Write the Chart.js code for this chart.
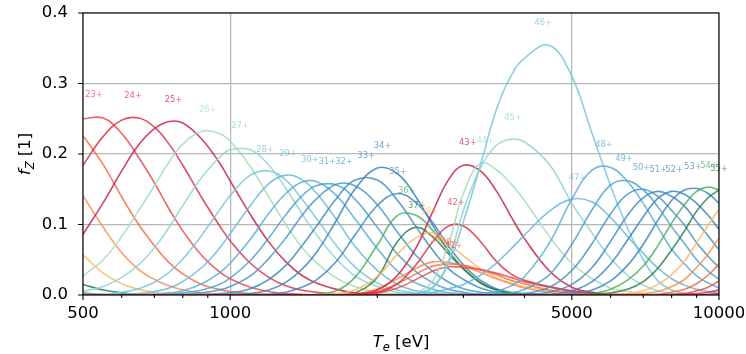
<!DOCTYPE html>
<html>
<head>
<meta charset="utf-8">
<script src="https://cdn.jsdelivr.net/npm/chart.js@4.4.1/dist/chart.umd.min.js"></script>
<style>
  html, body { margin: 0; padding: 0; background: #fff; }
  #wrap { width: 746px; height: 354px; }
</style>
</head>
<body>
<div id="wrap"><canvas id="fz" width="746" height="354"></canvas></div>
<script>
/* DATA */

// electron temperature grid [eV]
const te = [500, 550, 600, 650, 700, 750, 800, 875, 950, 1000,
            1100, 1200, 1300, 1400, 1500, 1650, 1800, 2000, 2200, 2400,
            2600, 2800, 3000, 3250, 3500, 3750, 4000, 4500, 5000, 5500,
            6000, 6500, 7000, 7500, 8000, 8500, 9000, 9500, 10000];

// charge states plotted, and the ones that get a peak label
const charges = [18, 19, 20, 21, 22, 23, 24, 25, 26, 27, 28, 29, 30, 31, 32, 33, 34, 35, 36, 37, 38, 39,
                 40, 41, 42, 43, 44, 45, 46, 47, 48, 49, 50, 51, 52, 53, 54, 55, 56, 57, 58, 59, 60, 61];
const labelled = [23, 24, 25, 26, 27, 28, 29, 30, 31, 32, 33, 34, 35, 36, 37, 38, 39,
                  40, 41, 42, 43, 44, 45, 46, 47, 48, 49, 50, 51, 52, 53, 54, 55];

// fractional abundance of each charge state on the te grid
const f18 = [0.003,0.001,0,0,0,0,0,0,0,0, 0,0,0,0,0,0,0,0,0,0, 0,0,0,0,0,0,0,0,0,0, 0,0,0,0,0,0,0,0,0];
const f19 = [0.015,0.007,0.003,0.001,0.001,0,0,0,0,0, 0,0,0,0,0,0,0,0,0,0, 0,0,0,0,0,0,0,0,0,0, 0,0,0,0,0,0,0,0,0];
const f20 = [0.057,0.031,0.016,0.008,0.004,0.002,0.001,0,0,0, 0,0,0,0,0,0,0,0,0,0, 0,0,0,0,0,0,0,0,0,0, 0,0,0,0,0,0,0,0,0];
const f21 = [0.141,0.096,0.060,0.036,0.022,0.013,0.007,0.003,0.001,0.001, 0,0,0,0,0,0,0,0,0,0, 0,0,0,0,0,0,0,0,0,0, 0,0,0,0,0,0,0,0,0];
const f22 = [0.226,0.185,0.139,0.100,0.070,0.046,0.030,0.015,0.008,0.005, 0.002,0.001,0,0,0,0,0,0,0,0, 0,0,0,0,0,0,0,0,0,0, 0,0,0,0,0,0,0,0,0];
const f23 = [0.250,0.251,0.229,0.195,0.159,0.122,0.091,0.056,0.033,0.023, 0.011,0.005,0.002,0.001,0,0,0,0,0,0, 0,0,0,0,0,0,0,0,0,0, 0,0,0,0,0,0,0,0,0];
const f24 = [0.184,0.225,0.248,0.251,0.238,0.214,0.184,0.138,0.099,0.077, 0.045,0.025,0.013,0.007,0.004,0.001,0.001,0,0,0, 0,0,0,0,0,0,0,0,0,0, 0,0,0,0,0,0,0,0,0];
const f25 = [0.086,0.131,0.176,0.213,0.236,0.246,0.244,0.221,0.188,0.162, 0.114,0.075,0.047,0.028,0.017,0.008,0.003,0.001,0,0, 0,0,0,0,0,0,0,0,0,0, 0,0,0,0,0,0,0,0,0];
const f26 = [0.027,0.050,0.083,0.120,0.155,0.189,0.214,0.232,0.229,0.218, 0.182,0.139,0.100,0.068,0.046,0.024,0.012,0.004,0.002,0.001, 0,0,0,0,0,0,0,0,0,0, 0,0,0,0,0,0,0,0,0];
const f27 = [0.005,0.012,0.025,0.043,0.067,0.096,0.127,0.167,0.195,0.206, 0.206,0.184,0.151,0.116,0.086,0.051,0.027,0.012,0.004,0.002, 0.001,0,0,0,0,0,0,0,0,0, 0,0,0,0,0,0,0,0,0];
const f28 = [0,0.001,0.004,0.009,0.018,0.032,0.051,0.085,0.120,0.141, 0.170,0.176,0.163,0.137,0.109,0.070,0.040,0.017,0.007,0.003, 0.001,0,0,0,0,0,0,0,0,0, 0,0,0,0,0,0,0,0,0];
const f29 = [0,0,0.001,0.002,0.005,0.010,0.019,0.039,0.066,0.087, 0.127,0.158,0.170,0.164,0.145,0.107,0.069,0.035,0.015,0.006, 0.003,0.001,0,0,0,0,0,0,0,0, 0,0,0,0,0,0,0,0,0];
const f30 = [0,0,0,0,0.001,0.003,0.006,0.016,0.031,0.045, 0.079,0.116,0.144,0.160,0.161,0.141,0.108,0.066,0.034,0.017, 0.008,0.003,0.002,0,0,0,0,0,0,0, 0,0,0,0,0,0,0,0,0];
const f31 = [0,0,0,0,0,0.001,0.003,0.007,0.015,0.024, 0.049,0.081,0.114,0.140,0.155,0.156,0.136,0.096,0.058,0.033, 0.017,0.008,0.004,0.001,0,0,0,0,0,0, 0,0,0,0,0,0,0,0,0];
const f32 = [0,0,0,0,0,0,0.001,0.003,0.007,0.012, 0.027,0.052,0.081,0.112,0.136,0.157,0.155,0.128,0.089,0.056, 0.033,0.018,0.009,0.004,0.002,0.001,0,0,0,0, 0,0,0,0,0,0,0,0,0];
const f33 = [0,0,0,0,0,0,0,0,0.002,0.003, 0.009,0.022,0.042,0.069,0.097,0.137,0.163,0.163,0.134,0.097, 0.063,0.037,0.022,0.010,0.004,0.002,0.001,0,0,0, 0,0,0,0,0,0,0,0,0];
const f34 = [0,0,0,0,0,0,0,0,0,0.001, 0.002,0.007,0.018,0.036,0.060,0.106,0.150,0.180,0.172,0.139, 0.098,0.062,0.037,0.018,0.008,0.003,0.001,0,0,0, 0,0,0,0,0,0,0,0,0];
const f35 = [0,0,0,0,0,0,0,0,0,0, 0,0.001,0.004,0.011,0.021,0.048,0.085,0.127,0.144,0.131, 0.102,0.069,0.043,0.021,0.009,0.004,0.002,0,0,0, 0,0,0,0,0,0,0,0,0];
const f36 = [0,0,0,0,0,0,0,0,0,0, 0,0,0,0,0.001,0.006,0.025,0.071,0.113,0.113, 0.091,0.062,0.038,0.018,0.007,0.003,0.001,0,0,0, 0,0,0,0,0,0,0,0,0];
const f37 = [0,0,0,0,0,0,0,0,0,0, 0,0,0,0,0,0,0.003,0.025,0.076,0.096, 0.082,0.058,0.037,0.017,0.007,0.002,0.001,0,0,0, 0,0,0,0,0,0,0,0,0];
const f38 = [0,0,0,0,0,0,0,0,0,0, 0,0,0,0,0,0.002,0.007,0.026,0.058,0.081, 0.088,0.073,0.056,0.037,0.025,0.017,0.012,0.006,0.003,0.001, 0.001,0,0,0,0,0,0,0,0];
const f39 = [0,0,0,0,0,0,0,0,0,0, 0,0,0,0,0,0,0.002,0.009,0.023,0.038, 0.047,0.046,0.041,0.032,0.023,0.016,0.010,0.004,0.001,0, 0,0,0,0,0,0,0,0,0];
const f40 = [0,0,0,0,0,0,0,0,0,0, 0,0,0,0,0,0,0.001,0.005,0.016,0.030, 0.041,0.044,0.042,0.036,0.029,0.021,0.016,0.007,0.003,0.001, 0,0,0,0,0,0,0,0,0];
const f41 = [0,0,0,0,0,0,0,0,0,0, 0,0,0,0,0,0,0.001,0.003,0.010,0.022, 0.034,0.040,0.039,0.036,0.031,0.025,0.019,0.011,0.005,0.003, 0.001,0,0,0,0,0,0,0,0];
const f42 = [0,0,0,0,0,0,0,0,0,0, 0,0,0,0,0,0,0,0.003,0.016,0.043, 0.076,0.098,0.098,0.076,0.048,0.030,0.021,0.012,0.006,0.003, 0.001,0,0,0,0,0,0,0,0];
const f43 = [0,0,0,0,0,0,0,0,0,0, 0,0,0,0,0,0,0.001,0.007,0.028,0.067, 0.119,0.164,0.184,0.176,0.148,0.112,0.080,0.034,0.011,0.004, 0.001,0,0,0,0,0,0,0,0];
const f44 = [0,0,0,0,0,0,0,0,0,0, 0,0,0,0,0,0,0,0,0,0.003, 0.021,0.074,0.144,0.187,0.178,0.158,0.134,0.083,0.045,0.023, 0.010,0.005,0.002,0.001,0,0,0,0,0];
const f45 = [0,0,0,0,0,0,0,0,0,0, 0,0,0,0,0,0,0,0,0,0, 0.010,0.050,0.120,0.180,0.212,0.221,0.217,0.185,0.130,0.088, 0.052,0.028,0.014,0.006,0.002,0.001,0,0,0];
const f46 = [0,0,0,0,0,0,0,0,0,0, 0,0,0,0,0,0,0,0,0,0.002, 0.012,0.045,0.104,0.184,0.262,0.310,0.336,0.354,0.310,0.229, 0.155,0.095,0.050,0.020,0.007,0.002,0.001,0,0];
const f47 = [0,0,0,0,0,0,0,0,0,0, 0,0,0,0,0,0,0,0,0.001,0.002, 0.004,0.009,0.015,0.028,0.045,0.065,0.085,0.119,0.136,0.132, 0.110,0.083,0.059,0.038,0.023,0.014,0.008,0.005,0.003];
const f48 = [0,0,0,0,0,0,0,0,0,0, 0,0,0,0,0,0,0,0,0,0, 0,0,0.001,0.002,0.005,0.013,0.026,0.074,0.136,0.177, 0.181,0.161,0.130,0.096,0.065,0.044,0.027,0.017,0.010];
const f49 = [0,0,0,0,0,0,0,0,0,0, 0,0,0,0,0,0,0,0,0,0, 0,0,0,0,0.001,0.003,0.008,0.029,0.072,0.121, 0.156,0.162,0.149,0.125,0.097,0.073,0.050,0.034,0.022];
const f50 = [0,0,0,0,0,0,0,0,0,0, 0,0,0,0,0,0,0,0,0,0, 0,0,0,0,0,0.001,0.002,0.011,0.035,0.073, 0.115,0.143,0.150,0.140,0.120,0.099,0.074,0.055,0.039];
const f51 = [0,0,0,0,0,0,0,0,0,0, 0,0,0,0,0,0,0,0,0,0, 0,0,0,0,0,0,0.001,0.004,0.015,0.039, 0.076,0.113,0.138,0.147,0.140,0.126,0.104,0.084,0.064];
const f52 = [0,0,0,0,0,0,0,0,0,0, 0,0,0,0,0,0,0,0,0,0, 0,0,0,0,0,0,0,0.001,0.006,0.019, 0.044,0.078,0.111,0.137,0.147,0.143,0.130,0.113,0.093];
const f53 = [0,0,0,0,0,0,0,0,0,0, 0,0,0,0,0,0,0,0,0,0, 0,0,0,0,0,0,0,0,0.002,0.007, 0.020,0.042,0.072,0.106,0.134,0.149,0.151,0.144,0.130];
const f54 = [0,0,0,0,0,0,0,0,0,0, 0,0,0,0,0,0,0,0,0,0, 0,0,0,0,0,0,0,0,0,0.002, 0.008,0.021,0.041,0.070,0.102,0.128,0.147,0.153,0.149];
const f55 = [0,0,0,0,0,0,0,0,0,0, 0,0,0,0,0,0,0,0,0,0, 0,0,0,0,0,0,0,0,0,0.001, 0.003,0.008,0.019,0.038,0.064,0.091,0.119,0.138,0.149];
const f56 = [0,0,0,0,0,0,0,0,0,0, 0,0,0,0,0,0,0,0,0,0, 0,0,0,0,0,0,0,0,0,0, 0.001,0.002,0.006,0.015,0.029,0.048,0.074,0.099,0.122];
const f57 = [0,0,0,0,0,0,0,0,0,0, 0,0,0,0,0,0,0,0,0,0, 0,0,0,0,0,0,0,0,0,0, 0,0.001,0.002,0.005,0.012,0.022,0.039,0.058,0.081];
const f58 = [0,0,0,0,0,0,0,0,0,0, 0,0,0,0,0,0,0,0,0,0, 0,0,0,0,0,0,0,0,0,0, 0,0,0,0.001,0.004,0.008,0.016,0.028,0.044];
const f59 = [0,0,0,0,0,0,0,0,0,0, 0,0,0,0,0,0,0,0,0,0, 0,0,0,0,0,0,0,0,0,0, 0,0,0,0,0.001,0.002,0.006,0.011,0.020];
const f60 = [0,0,0,0,0,0,0,0,0,0, 0,0,0,0,0,0,0,0,0,0, 0,0,0,0,0,0,0,0,0,0, 0,0,0,0,0,0.001,0.002,0.004,0.007];
const f61 = [0,0,0,0,0,0,0,0,0,0, 0,0,0,0,0,0,0,0,0,0, 0,0,0,0,0,0,0,0,0,0, 0,0,0,0,0,0,0,0.001,0.002];

const fz = [f18, f19, f20, f21, f22, f23, f24, f25, f26, f27, f28, f29, f30, f31, f32, f33, f34, f35, f36, f37, f38, f39,
            f40, f41, f42, f43, f44, f45, f46, f47, f48, f49, f50, f51, f52, f53, f54, f55, f56, f57, f58, f59, f60, f61];

// axis ticks
const xTicks = [500, 600, 700, 800, 900, 1000, 2000, 3000, 4000, 5000, 6000, 7000, 8000, 9000, 10000];
const xMajor = [500, 1000, 5000, 10000];
const yTicks = [0, 0.1, 0.2, 0.3, 0.4];

/* STYLE */

// colour cycle repeats every 18 charge states (26+ starts the cycle)
const palette = ['#a5dcc2', '#90d3d3', '#78c6d8', '#68b9d8', '#5aadd3', '#4fa2cc', '#4697c6', '#3f8dc1', '#3a85bd',
                 '#3f86c0', '#4daf62', '#2a7f4d', '#fdb863', '#fc8d4d', '#f46b45', '#ec4a4b', '#dd3147', '#c8224a'];
const colorFor = z => palette[(z + 10) % 18];

const FONT = "'DejaVu Sans', 'Liberation Sans', sans-serif";
const GRID = '#b8b8b8';

/* PLUGINS */

// peak of a series: parabola through the max sample and its neighbours (in log Te)
function peakOf(arr) {
  let k = 0;
  arr.forEach((v, i) => { if (v > arr[k]) k = i; });
  if (k === 0 || k === arr.length - 1) return { t: te[k], f: arr[k] };
  const u0 = Math.log10(te[k - 1]), u1 = Math.log10(te[k]), u2 = Math.log10(te[k + 1]);
  const y0 = arr[k - 1], y1 = arr[k], y2 = arr[k + 1];
  const d = (u0 - u1) * (u0 - u2) * (u1 - u2);
  const A = (u2 * (y1 - y0) + u1 * (y0 - y2) + u0 * (y2 - y1)) / d;
  const B = (u2 * u2 * (y0 - y1) + u1 * u1 * (y2 - y0) + u0 * u0 * (y1 - y2)) / d;
  const C = (u1 * u2 * (u1 - u2) * y0 + u2 * u0 * (u2 - u0) * y1 + u0 * u1 * (u0 - u1) * y2) / d;
  if (A >= 0) return { t: te[k], f: y1 };
  let u = -B / (2 * A);
  u = Math.min(Math.max(u, u0), u2);
  return { t: Math.pow(10, u), f: A * u * u + B * u + C };
}

const peakLabels = {
  id: 'peakLabels',
  afterDatasetsDraw(chart) {
    const { ctx, scales: { x, y } } = chart;
    ctx.save();
    ctx.font = '8.3px ' + FONT;
    ctx.textAlign = 'center';
    ctx.textBaseline = 'middle';
    ctx.globalAlpha = 0.75;
    charges.forEach((z, i) => {
      if (!labelled.includes(z)) return;
      const p = peakOf(fz[i]);
      ctx.fillStyle = colorFor(z);
      ctx.fillText(z + '+', x.getPixelForValue(p.t), y.getPixelForValue(p.f + 0.03));
    });
    ctx.restore();
  }
};

// text made of roman / italic / subscript pieces, centred on (0,0)
function mathText(ctx, parts, size) {
  const fontOf = p => (p.it ? 'italic ' : '') + (p.sub ? size * 0.7 : size) + 'px ' + FONT;
  let w = 0;
  parts.forEach(p => { ctx.font = fontOf(p); w += ctx.measureText(p.t).width; });
  let cx = -w / 2;
  parts.forEach(p => {
    ctx.font = fontOf(p);
    ctx.fillText(p.t, cx, p.sub ? size * 0.25 : 0);
    cx += ctx.measureText(p.t).width;
  });
}

const frame = {
  id: 'frame',
  afterDraw(chart) {
    const { ctx, chartArea: a, scales: { x, y } } = chart;
    ctx.save();
    ctx.strokeStyle = '#000';
    ctx.lineWidth = 1.1;
    ctx.beginPath();
    xTicks.forEach(v => {
      const px = x.getPixelForValue(v);
      ctx.moveTo(px, a.bottom);
      ctx.lineTo(px, a.bottom + (xMajor.includes(v) ? 5 : 3));
    });
    yTicks.forEach(v => {
      const py = y.getPixelForValue(v);
      ctx.moveTo(a.left - 5, py);
      ctx.lineTo(a.left, py);
    });
    ctx.stroke();
    ctx.strokeRect(a.left, a.top, a.right - a.left, a.bottom - a.top);

    // axis titles
    ctx.fillStyle = '#000';
    ctx.textBaseline = 'alphabetic';
    ctx.textAlign = 'left';
    ctx.save();
    ctx.translate((a.left + a.right) / 2, 347);
    mathText(ctx, [{ t: 'T', it: true }, { t: 'e', it: true, sub: true }, { t: ' [eV]' }], 16.5);
    ctx.restore();
    ctx.save();
    ctx.translate(30, (a.top + a.bottom) / 2);
    ctx.rotate(-Math.PI / 2);
    mathText(ctx, [{ t: 'f', it: true }, { t: 'Z', it: true, sub: true }, { t: ' [1]' }], 16.5);
    ctx.restore();
    ctx.restore();
  }
};

/* CHART */

const datasets = charges.map((z, i) => ({
  label: z + '+',
  data: te.map((t, k) => ({ x: t, y: fz[i][k] })),
  borderColor: colorFor(z) + 'd9',
  borderWidth: 1.6,
  pointRadius: 0,
  fill: false,
  tension: 0.4,
  order: -i
}));

new Chart(document.getElementById('fz').getContext('2d'), {
  type: 'line',
  data: { datasets },
  options: {
    responsive: false,
    animation: false,
    devicePixelRatio: 1,
    parsing: false,
    layout: { padding: { top: 13, right: 27, left: 0, bottom: 0 } },
    plugins: { legend: { display: false }, tooltip: { enabled: false } },
    scales: {
      x: {
        type: 'logarithmic',
        min: 500,
        max: 10000,
        afterBuildTicks: s => { s.ticks = xTicks.map(v => ({ value: v, major: xMajor.includes(v) })); },
        afterFit: s => { s.height = 59; s.paddingLeft = 0; s.paddingRight = 0; },
        ticks: {
          autoSkip: false,
          maxRotation: 0,
          minRotation: 0,
          padding: 9,
          color: '#000',
          font: { family: FONT, size: 16.5 },
          callback: v => (xMajor.includes(v) ? String(v) : '')
        },
        grid: {
          drawTicks: false,
          lineWidth: 1.3,
          color: c => (c.tick && xMajor.includes(c.tick.value) ? GRID : 'rgba(0,0,0,0)')
        },
        border: { display: false }
      },
      y: {
        min: 0,
        max: 0.4,
        afterBuildTicks: s => { s.ticks = yTicks.map(v => ({ value: v })); },
        afterFit: s => { s.width = 83; s.paddingTop = 0; s.paddingBottom = 0; },
        ticks: {
          padding: 15,
          color: '#000',
          font: { family: FONT, size: 16.5 },
          callback: v => v.toFixed(1)
        },
        grid: { drawTicks: false, lineWidth: 1.3, color: GRID },
        border: { display: false }
      }
    }
  },
  plugins: [peakLabels, frame]
});
</script>
</body>
</html>
